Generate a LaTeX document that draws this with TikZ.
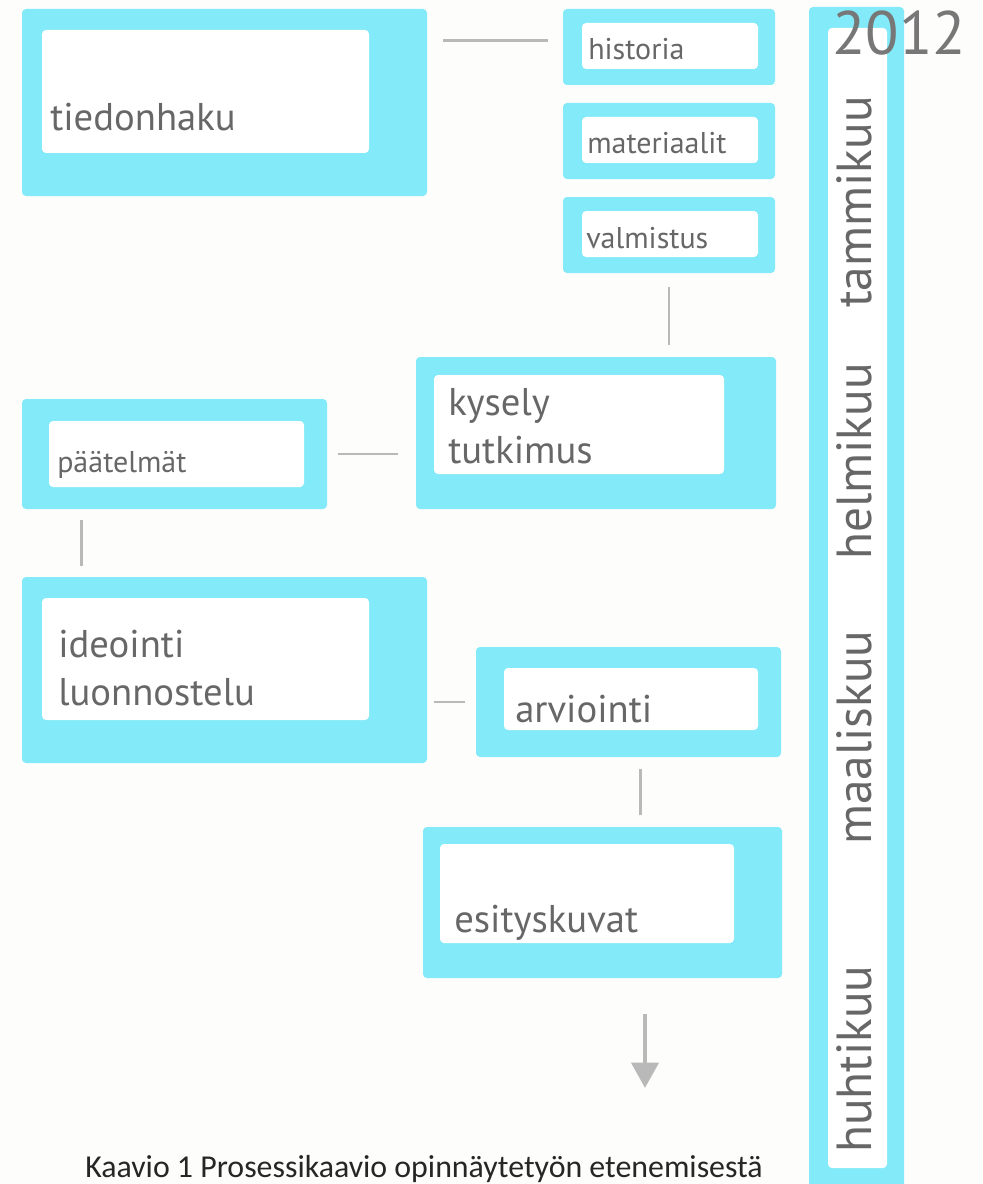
\documentclass[tikz,border=0pt]{standalone}
\usepackage{fontspec}
\setmainfont{PT Sans}
\newfontfamily\capfont{Carlito}
\usetikzlibrary{fit,calc,arrows.meta}

\definecolor{boxcyan}{HTML}{82EAF8}
\definecolor{linegray}{HTML}{B9B9B9}
\definecolor{textgray}{HTML}{676767}
\definecolor{yeargray}{HTML}{777777}
\definecolor{pagebg}{HTML}{FDFDFC}

\begin{document}
\begin{tikzpicture}[x=0.75pt,y=0.75pt,yscale=-1,
    outerbox/.style={fill=boxcyan,rounded corners=3pt,inner sep=0pt},
    innerbox/.style={fill=white,rounded corners=3pt,inner sep=0pt},
    link/.style={draw=linegray,line width=2.2pt},
    flow/.style={draw=linegray,line width=3.7pt,-{Triangle[width=20pt,length=19pt,fill=linegray]}},
    bigtext/.style={text=textgray,inner sep=0pt,anchor=base west,align=left,font=\fontsize{29}{36}\selectfont},
    smalltext/.style={text=textgray,inner sep=0pt,anchor=base west,font=\fontsize{22.5}{27}\selectfont},
    monthtext/.style={text=textgray,inner sep=0pt,anchor=base west,rotate=90,font=\fontsize{37}{44}\selectfont}]
    \useasboundingbox (0,0) rectangle (982,1184);
    \fill[pagebg] (0,0) rectangle (982,1184);

    %Shape: tiedonhaku
    \node[outerbox, fit={(22,9) (427,196)}] (tied) {};
    \node[innerbox, fit={(42,30) (369,153)}] (tied-in) {};
    \node[bigtext] (tied-t) at (50,131) {tiedonhaku};

    %Shape: historia, materiaalit, valmistus
    \node[outerbox, fit={(563,9) (775,85)}] (hist) {};
    \node[innerbox, fit={(582,23) (758,69)}] (hist-in) {};
    \node[smalltext] (hist-t) at (588,60) {historia};

    \node[outerbox, fit={(563,103) (775,179)}] (mat) {};
    \node[innerbox, fit={(582,117) (758,163)}] (mat-in) {};
    \node[smalltext] (mat-t) at (587,153) {materiaalit};

    \node[outerbox, fit={(563,197) (775,273)}] (valm) {};
    \node[innerbox, fit={(582,211) (758,257)}] (valm-in) {};
    \node[smalltext] (valm-t) at (586,248) {valmistus};

    %Shape: kysely tutkimus
    \node[outerbox, fit={(416,357) (776,509)}] (kys) {};
    \node[innerbox, fit={(434,375) (724,474)}] (kys-in) {};
    \node[bigtext] (kys-t) at (448,463) {kysely\\tutkimus};

    %Shape: paatelmat
    \node[outerbox, fit={(22,399) (327,509)}] (paat) {};
    \node[innerbox, fit={(49,421) (304,487)}] (paat-in) {};
    \node[smalltext] (paat-t) at (57,472) {päätelmät};

    %Shape: ideointi luonnostelu
    \node[outerbox, fit={(22,577) (427,763)}] (idea) {};
    \node[innerbox, fit={(42,598) (369,720)}] (idea-in) {};
    \node[bigtext] (idea-t) at (58,705) {ideointi\\luonnostelu};

    %Shape: arviointi
    \node[outerbox, fit={(476,647) (781,757)}] (arv) {};
    \node[innerbox, fit={(504,668) (758,730)}] (arv-in) {};
    \node[bigtext] (arv-t) at (515,722) {arviointi};

    %Shape: esityskuvat
    \node[outerbox, fit={(423,827) (782,978)}] (esit) {};
    \node[innerbox, fit={(440,844) (734,943)}] (esit-in) {};
    \node[bigtext] (esit-t) at (454,932) {esityskuvat};

    %Shape: timeline bar
    \node[outerbox, fit={(809,7) (904,1195)}] (bar) {};
    \node[innerbox, fit={(828,28) (887,1168)}] (bar-in) {};
    \node[text=yeargray, inner sep=0pt, anchor=base west, font=\fontsize{46}{54}\selectfont] (year) at (832,55) {2012};
    \node[monthtext] (tam) at (871,308) {tammikuu};
    \node[monthtext] (hel) at (871,560) {helmikuu};
    \node[monthtext] (maa) at (871,845) {maaliskuu};
    \node[monthtext] (huh) at (871,1153) {huhtikuu};

    %Straight Lines
    \draw[link, shorten <=12pt, shorten >=11pt] (tied.east |- {$(hist.north west)!0.41!(hist.south west)$}) -- ($(hist.north west)!0.41!(hist.south west)$);
    \draw[link, shorten <=10.5pt, shorten >=9pt] (valm.south) -- (valm.south |- kys.north);
    \draw[link, shorten <=8pt, shorten >=13.5pt] (paat.east) -- (paat.east -| kys.west);
    \draw[link, shorten <=8pt, shorten >=8pt] ($(paat.south west)+(60,0)$) -- ($(idea.north west)+(60,0)$);
    \draw[link, shorten <=5pt, shorten >=8pt] (idea.east |- arv.west) -- (arv.west);
    \coordinate (arv-out) at ($(arv.south west)+(165,0)$);
    \draw[link, shorten <=9pt, shorten >=9pt] (arv-out) -- (arv-out |- esit.north);

    %Arrow
    \coordinate (end) at (645,1088);
    \draw[flow, shorten <=27pt] (esit.south -| end) -- (end);

    % Text Node
    \node[text=black!85, inner sep=0pt, anchor=base west, font=\capfont\fontsize{23.9}{28}\selectfont] (cap) at (85,1177) {Kaavio 1 Prosessikaavio opinnäytetyön etenemisestä};
\end{tikzpicture}
\end{document}
